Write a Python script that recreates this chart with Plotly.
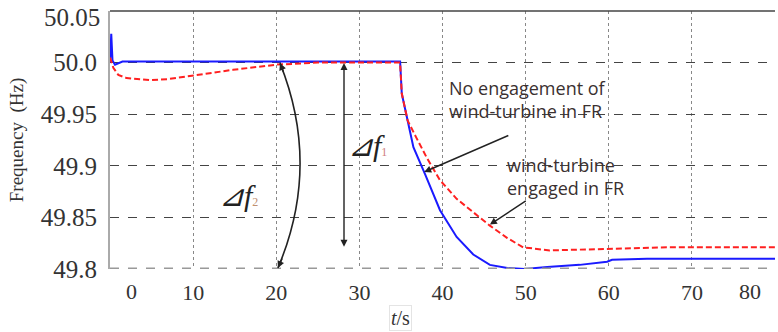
import plotly.graph_objects as go

# ---- data ----
t_blue = [0.0, 0.15, 0.3, 0.6, 1.5, 5, 10, 20, 30, 34.9, 35.1, 35.7, 36.5, 37.9, 39.7, 41.7, 43.7, 45.7, 47.8,
          49.9, 52.6, 56.5, 59.8, 60.4, 64.6, 70.0, 80.0]
f_blue = [50.0, 50.028, 50.002, 49.998, 50.001, 50.001, 50.001, 50.001, 50.001, 50.001, 49.970, 49.949, 49.918,
          49.892, 49.857, 49.831, 49.814, 49.804, 49.801, 49.800, 49.802, 49.804, 49.807, 49.809, 49.810,
          49.810, 49.810]

t_red = [0.0, 0.4, 1.0, 2.0, 4.8, 7.0, 9.6, 14.8, 20.0, 25.0, 30.0, 34.9, 35.1, 35.8, 36.8, 38.1, 39.7, 41.7,
         43.7, 45.7, 47.8, 49.7, 52.9, 57.7, 63.7, 67.0, 80.0]
f_red = [50.005, 49.995, 49.988, 49.985, 49.983, 49.984, 49.987, 49.993, 49.998, 50.0, 50.0, 50.0, 49.970,
         49.944, 49.928, 49.908, 49.886, 49.868, 49.855, 49.842, 49.830, 49.821, 49.818, 49.819, 49.820,
         49.821, 49.821]

x_ticks = [0, 10, 20, 30, 40, 50, 60, 70, 80]
x_labels = ["0", "10", "20", "30", "40", "50", "60", "70", "80"]
y_ticks = [49.8, 49.85, 49.9, 49.95, 50.0, 50.05]
y_labels = ["49.8", "49.85", "49.9", "49.95", "50.0", "50.05"]

serif = "Liberation Serif"
sans = "Open Sans"
txt = "#333"

fig = go.Figure()
fig.add_trace(go.Scatter(x=t_blue, y=f_blue, mode="lines",
                         line=dict(color="#1a1aff", width=2), showlegend=False))
fig.add_trace(go.Scatter(x=t_red, y=f_red, mode="lines",
                         line=dict(color="#ff2020", width=2, dash="6px,3px"), showlegend=False))

fig.update_layout(
    width=778, height=332,
    margin=dict(l=110, r=3, t=11, b=63),
    paper_bgcolor="white", plot_bgcolor="white",
    xaxis=dict(range=[0, 80], tickvals=x_ticks[1:-1], ticktext=x_labels[1:-1],
               showgrid=True, gridcolor="#888", griddash="dot", gridwidth=1,
               zeroline=False, showline=False, ticks="", ticklabelstandoff=8,
               tickfont=dict(family=serif, size=22, color=txt)),
    yaxis=dict(range=[49.8, 50.05], tickvals=y_ticks[:-1], ticktext=y_labels[:-1],
               showgrid=True, gridcolor="#444", griddash="dash", gridwidth=1,
               zeroline=False, showline=True, linecolor="#aaa", linewidth=2, ticks="",
               ticklabelstandoff=6,
               tickfont=dict(family=serif, size=25, color=txt),
               title=dict(text="Frequency  (Hz)", font=dict(family=serif, size=19, color=txt), standoff=12)),
)

# borders
fig.add_shape(type="line", xref="paper", yref="paper", x0=0, x1=1, y0=1, y1=1,
              line=dict(color="#444", width=1.5))
fig.add_shape(type="line", xref="paper", yref="y", x0=0, x1=1, y0=49.8, y1=49.8,
              line=dict(color="#999", width=3, dash="dash"))

# top y tick label (placed as text so it is not clipped)
fig.add_annotation(x=0, y=y_ticks[-1], xref="paper", yref="y", text=y_labels[-1], showarrow=False,
                   xanchor="right", yanchor="middle", xshift=-8, yshift=-6,
                   font=dict(family=serif, size=25, color=txt))
# x tick labels at ends
fig.add_annotation(x=0, y=0, xref="paper", yref="paper", text=x_labels[0], showarrow=False,
                   xshift=14, yshift=-22, yanchor="middle", font=dict(family=serif, size=22, color=txt))
fig.add_annotation(x=1, y=0, xref="paper", yref="paper", text=x_labels[-1], showarrow=False,
                   xshift=-12, yshift=-22, yanchor="middle", font=dict(family=serif, size=22, color=txt))
# x title
fig.add_annotation(x=0.437, y=0, xref="paper", yref="paper", text="<i>t</i>/s", showarrow=False,
                   yshift=-49, yanchor="middle", font=dict(family=serif, size=20, color=txt),
                   bordercolor="#e4e4e4", borderwidth=1, borderpad=1)

# text labels
fig.add_annotation(x=40.5, y=49.964, xref="x", yref="y", text="No engagement of<br>wind-turbine in FR",
                   showarrow=False, xanchor="left", align="left",
                   font=dict(family=sans, size=18, color="#3a3030"))
fig.add_annotation(x=47.5, y=49.890, xref="x", yref="y", text="wind-turbine<br>engaged in FR",
                   showarrow=False, xanchor="left", align="left",
                   font=dict(family=sans, size=18, color="#3a3030"))

# arrows to curves
fig.add_annotation(x=37.8, y=49.894, ax=48.1, ay=49.930, xref="x", yref="y", axref="x", ayref="y",
                   text="", showarrow=True, arrowhead=2, arrowsize=1, arrowwidth=1.4, arrowcolor="#222")
fig.add_annotation(x=45.7, y=49.843, ax=50.2, ay=49.867, xref="x", yref="y", axref="x", ayref="y",
                   text="", showarrow=True, arrowhead=2, arrowsize=1, arrowwidth=1.4, arrowcolor="#222")

# delta f1 double arrow
fig.add_annotation(x=28.15, y=49.9995, ax=28.15, ay=49.820, xref="x", yref="y", axref="x", ayref="y",
                   text="", showarrow=True, arrowhead=2, startarrowhead=2, arrowside="end+start",
                   arrowsize=1, arrowwidth=1.4, arrowcolor="#222")
fig.add_annotation(x=31.0, y=49.920, xref="x", yref="y",
                   text="<i>⊿f</i><span style='font-size:12px;color:#d08080'>1</span>",
                   showarrow=False, font=dict(family=serif, size=30, color="#222"))

# delta f2 curved arc
fig.add_shape(type="path", xref="x", yref="y",
              path="M 20.45,49.9995 Q 25.4,49.90 20.2,49.801",
              line=dict(color="#222", width=1.6))
fig.add_annotation(x=20.45, y=49.9995, xref="x", yref="y", ax=4, ay=10, text="", showarrow=True,
                   arrowhead=2, arrowsize=1, arrowwidth=1.4, arrowcolor="#222")
fig.add_annotation(x=20.2, y=49.801, xref="x", yref="y", ax=5, ay=-11, text="", showarrow=True,
                   arrowhead=2, arrowsize=1, arrowwidth=1.4, arrowcolor="#222")
fig.add_annotation(x=15.4, y=49.871, xref="x", yref="y",
                   text="<i>⊿f</i><span style='font-size:12px;color:#c09070'>2</span>",
                   showarrow=False, font=dict(family=serif, size=30, color="#222"))

fig.write_html("out.html")
